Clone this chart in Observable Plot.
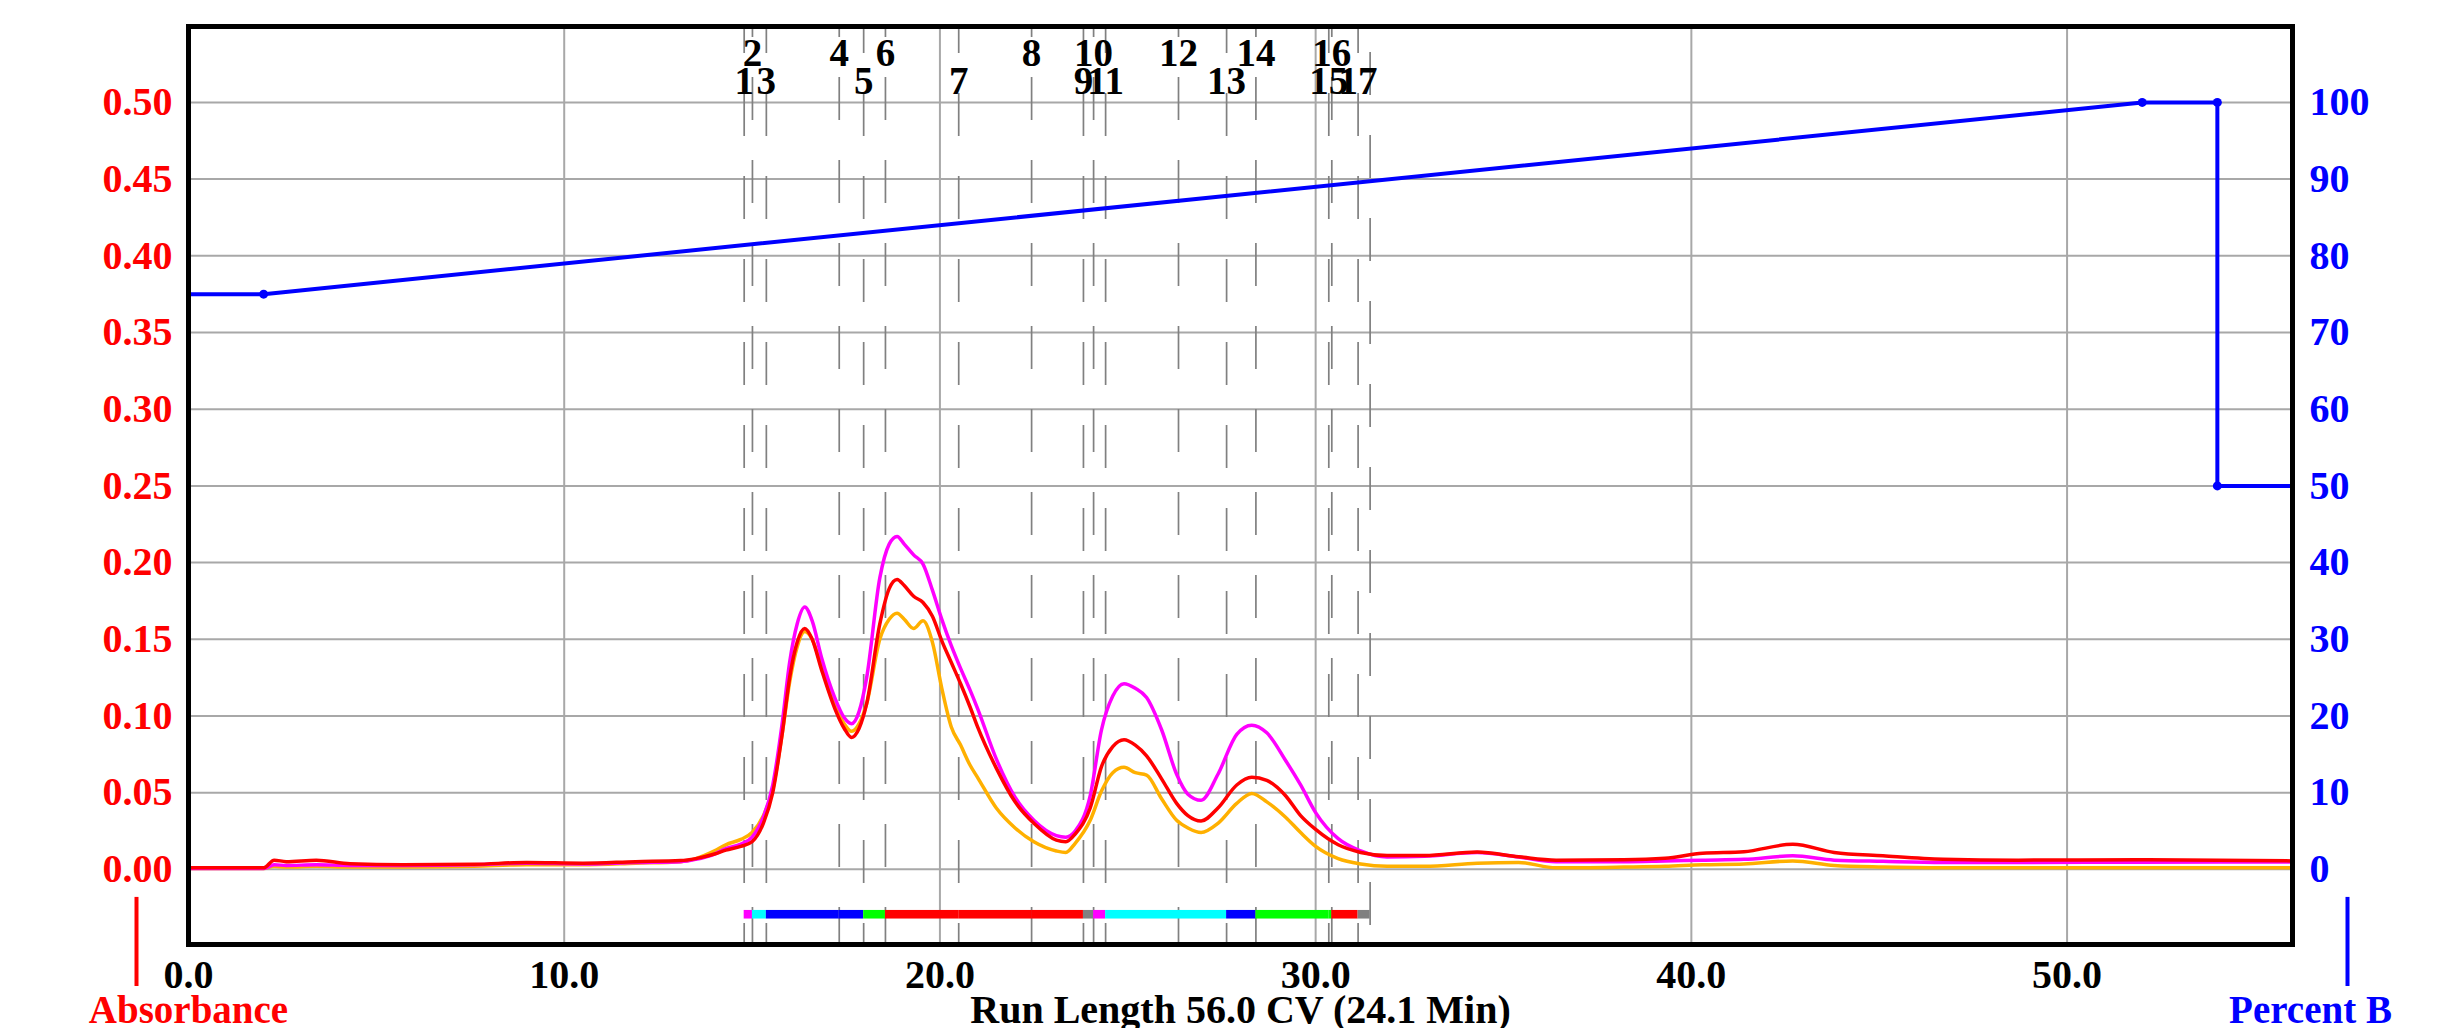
<!DOCTYPE html>
<html><head><meta charset="utf-8">
<script src="https://cdn.jsdelivr.net/npm/d3@7"></script>
<script src="https://cdn.jsdelivr.net/npm/@observablehq/plot@0.6"></script>
<style>html,body{margin:0;padding:0;background:#fff;} svg{display:block}</style>
</head><body><div id="chart"></div>
<script>
// Run length (CV) sample points shared by the three absorbance traces
const cv = [0, 2.0, 2.28, 2.6, 3.4, 4.3, 5.7, 7.6, 9.0, 10.5, 11.9, 13.1, 13.5, 14.0, 14.3, 14.7, 15.0, 15.3, 15.55, 15.8, 16.0, 16.2, 16.4, 16.6, 16.85, 17.2, 17.45, 17.65, 17.85, 18.05, 18.4, 18.65, 18.86, 19.05, 19.3, 19.55, 19.8, 20.05, 20.3, 20.55, 20.8, 21.0, 21.5, 22.0, 22.5, 23.1, 23.35, 23.6, 24.0, 24.3, 24.6, 24.9, 25.2, 25.5, 25.9, 26.3, 26.6, 26.95, 27.4, 27.9, 28.3, 28.7, 29.2, 29.6, 30.0, 30.6, 31.2, 31.9, 32.9, 34.3, 35.4, 36.4, 38.2, 39.3, 40.3, 41.4, 42.7, 43.8, 45.1, 46.7, 48.7, 51.9, 56];
const absRed = [0.001, 0.001, 0.006, 0.005, 0.006, 0.0037, 0.003, 0.0033, 0.0045, 0.004, 0.005, 0.0057, 0.007, 0.010, 0.0125, 0.015, 0.018, 0.030, 0.050, 0.088, 0.125, 0.148, 0.157, 0.150, 0.130, 0.105, 0.092, 0.086, 0.092, 0.108, 0.160, 0.183, 0.189, 0.185, 0.178, 0.174, 0.165, 0.149, 0.135, 0.121, 0.106, 0.093, 0.066, 0.044, 0.030, 0.019, 0.018, 0.023, 0.040, 0.067, 0.080, 0.0845, 0.081, 0.074, 0.059, 0.043, 0.035, 0.0315, 0.040, 0.055, 0.060, 0.058, 0.048, 0.035, 0.026, 0.016, 0.011, 0.009, 0.009, 0.0113, 0.0082, 0.006, 0.0062, 0.0072, 0.0105, 0.0115, 0.0163, 0.011, 0.0088, 0.0066, 0.006, 0.0062, 0.0055];
const absMagenta = [0.0005, 0.0005, 0.003, 0.0025, 0.003, 0.0025, 0.0025, 0.003, 0.004, 0.0035, 0.0045, 0.005, 0.0065, 0.010, 0.0135, 0.0165, 0.021, 0.034, 0.055, 0.095, 0.135, 0.160, 0.171, 0.162, 0.138, 0.112, 0.099, 0.095, 0.103, 0.125, 0.190, 0.212, 0.217, 0.212, 0.205, 0.199, 0.182, 0.163, 0.146, 0.131, 0.117, 0.105, 0.072, 0.047, 0.032, 0.022, 0.021, 0.025, 0.048, 0.091, 0.113, 0.121, 0.118, 0.112, 0.091, 0.062, 0.049, 0.045, 0.062, 0.088, 0.094, 0.089, 0.071, 0.055, 0.037, 0.020, 0.012, 0.008, 0.0085, 0.011, 0.008, 0.005, 0.005, 0.0055, 0.006, 0.0065, 0.0088, 0.006, 0.0052, 0.0045, 0.0045, 0.0047, 0.0048];
const absOrange = [0.0005, 0.0005, 0.002, 0.0015, 0.002, 0.0015, 0.0015, 0.002, 0.003, 0.003, 0.004, 0.005, 0.007, 0.012, 0.016, 0.0195, 0.024, 0.035, 0.052, 0.088, 0.122, 0.145, 0.155, 0.150, 0.132, 0.108, 0.095, 0.090, 0.095, 0.108, 0.150, 0.163, 0.167, 0.163, 0.157, 0.162, 0.148, 0.118, 0.093, 0.081, 0.068, 0.060, 0.040, 0.027, 0.018, 0.012, 0.011, 0.017, 0.032, 0.051, 0.063, 0.0665, 0.063, 0.0615, 0.046, 0.032, 0.027, 0.024, 0.030, 0.043, 0.0495, 0.044, 0.034, 0.024, 0.015, 0.007, 0.0035, 0.002, 0.002, 0.004, 0.0045, 0.001, 0.0015, 0.002, 0.003, 0.0035, 0.0055, 0.0025, 0.0015, 0.001, 0.001, 0.001, 0.001];

// Gradient (Percent B)
const gradientCV = [0, 2, 52, 54, 54, 56];
const gradientPctB = [75, 75, 100, 100, 50, 50];
const gradientDotCV = [2, 52, 54, 54];
const gradientDotPctB = [75, 100, 100, 50];

// Fractions
const fractionLabels = ["1","2","3","4","5","6","7","8","9","10","11","12","13","14","15","16","17"];
const fractionStart = [14.79, 15.01, 15.38, 17.32, 17.97, 18.55, 20.50, 22.44, 23.82, 24.09, 24.41, 26.35, 27.63, 28.41, 30.35, 30.43, 31.13];
const fractionEnd = 31.45;
const fractionColors = ["#ff00ff","#00ffff","#0000ff","#0000ff","#00ff00","#ff0000","#ff0000","#ff0000","#808080","#ff00ff","#00ffff","#00ffff","#0000ff","#00ff00","#00ff00","#ff0000","#808080"];

// Ticks
const absTicks = [0, 0.05, 0.10, 0.15, 0.20, 0.25, 0.30, 0.35, 0.40, 0.45, 0.50];
const pctBTicks = [0, 10, 20, 30, 40, 50, 60, 70, 80, 90, 100];
const cvTicks = [0, 10, 20, 30, 40, 50];
const xTitle = "Run Length 56.0 CV (24.1 Min)";
const leftTitle = "Absorbance";
const rightTitle = "Percent B";

const pctToAbs = 0.5 / 100;
const serif = "'Liberation Serif', 'Times New Roman', Times, serif";

const fractions = fractionLabels.map((label, i) => ({
  label, num: +label,
  x1: fractionStart[i],
  x2: i + 1 < fractionStart.length ? fractionStart[i + 1] : fractionEnd,
  color: fractionColors[i]
}));
const oddFr = fractions.filter(f => f.num % 2 === 1);
const evenFr = fractions.filter(f => f.num % 2 === 0);
const gradient = gradientCV.map((c, i) => ({cv: c, v: gradientPctB[i] * pctToAbs}));
const gradientDots = gradientDotCV.map((c, i) => ({cv: c, v: gradientDotPctB[i] * pctToAbs}));

const dashStyle = {stroke: "#808080", strokeWidth: 1.7, strokeDasharray: "43,40"};
const gridStyle = {stroke: "#a8a8a8", strokeOpacity: 1, strokeWidth: 2};

const chart = Plot.plot({
  width: 2455, height: 1028,
  marginLeft: 188, marginRight: 163, marginTop: 26, marginBottom: 84,
  x: {domain: [0, 56]},
  y: {domain: [-0.049, 0.5495]},
  color: {type: "identity"},
  style: {fontFamily: serif, background: "#fff", overflow: "visible"},
  marks: [
    Plot.gridY(absTicks, gridStyle),
    Plot.gridX(cvTicks.filter(d => d > 0), gridStyle),
    Plot.ruleX(oddFr, {x: "x1", ...dashStyle, strokeDashoffset: 16}),
    Plot.ruleX(evenFr, {x: "x1", ...dashStyle, strokeDashoffset: 32}),
    Plot.ruleX([fractionEnd], {...dashStyle, strokeDashoffset: 57}),
    Plot.rect(fractions, {x1: "x1", x2: "x2", y1: -0.0268, y2: -0.0324, fill: "color"}),
    Plot.line(absOrange, {x: cv, y: absOrange, stroke: "#ffb000", strokeWidth: 3.5, curve: "monotone-x"}),
    Plot.line(absMagenta, {x: cv, y: absMagenta, stroke: "#ff00ff", strokeWidth: 3.5, curve: "monotone-x"}),
    Plot.line(absRed, {x: cv, y: absRed, stroke: "#ff0000", strokeWidth: 3.5, curve: "monotone-x"}),
    Plot.line(gradient, {x: "cv", y: "v", stroke: "#0000ff", strokeWidth: 4}),
    Plot.dot(gradientDots, {x: "cv", y: "v", r: 4.5, fill: "#0000ff"}),
    Plot.text(evenFr, {x: "x1", text: "label", frameAnchor: "top", dy: 39, lineAnchor: "bottom", fontSize: 39, fontWeight: "bold", fill: "#000"}),
    Plot.text(oddFr, {x: "x1", text: "label", frameAnchor: "top", dy: 67, lineAnchor: "bottom", fontSize: 39, fontWeight: "bold", fill: "#000"}),
    Plot.axisY(absTicks, {anchor: "left", tickSize: 0, tickPadding: 16, tickFormat: d3.format(".2f"), color: "#ff0000", fontSize: 40, fontWeight: "bold", label: null}),
    Plot.axisY(pctBTicks.map(p => p * pctToAbs), {anchor: "right", tickSize: 0, tickPadding: 17, tickFormat: d => String(Math.round(d / pctToAbs)), color: "#0000ff", fontSize: 40, fontWeight: "bold", label: null}),
    Plot.axisX(cvTicks, {anchor: "bottom", tickSize: 0, tickPadding: 15, tickFormat: d3.format(".1f"), color: "#000", fontSize: 40, fontWeight: "bold", label: null}),
    Plot.text([xTitle], {frameAnchor: "bottom", dy: 78, lineAnchor: "bottom", fontSize: 40, fontWeight: "bold", fill: "#000"}),
    Plot.text([leftTitle], {frameAnchor: "bottom-left", dy: 78, lineAnchor: "bottom", textAnchor: "middle", fontSize: 39, fontWeight: "bold", fill: "#ff0000"}),
    Plot.text([rightTitle], {frameAnchor: "bottom-right", dx: 18, dy: 78, lineAnchor: "bottom", textAnchor: "middle", fontSize: 39, fontWeight: "bold", fill: "#0000ff"}),
    Plot.ruleX([0], {y1: -0.0183, y2: -0.0764, dx: -52, stroke: "#ff0000", strokeWidth: 4, clip: false}),
    Plot.ruleX([56], {y1: -0.0183, y2: -0.0764, dx: 55, stroke: "#0000ff", strokeWidth: 4, clip: false}),
    Plot.frame({stroke: "#000", strokeWidth: 5})
  ]
});
document.getElementById("chart").appendChild(chart);
</script>
</body></html>
